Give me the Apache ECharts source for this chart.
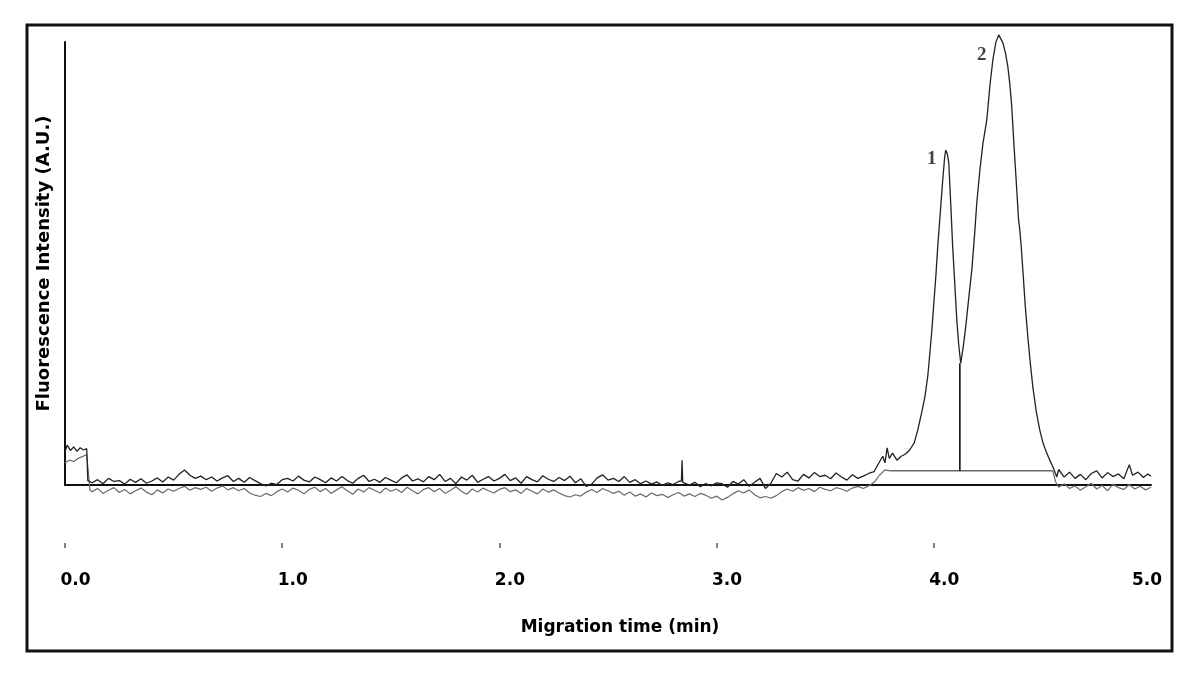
<!DOCTYPE html>
<html><head><meta charset="utf-8">
<script src="https://cdn.jsdelivr.net/npm/echarts@6/dist/echarts.min.js"></script>
<style>html,body{margin:0;padding:0;background:#fff}#c{width:1200px;height:681px}</style>
</head><body><div id="c"></div>
<script>
// ---- data (time in min, intensity in A.U., axis 0..100) ----
const xTickLabels = ['0.0','1.0','2.0','3.0','4.0','5.0'];
const xTickMarks = [0, 1, 2, 3, 4];

const noiseTimes = [
 0.125,0.15,0.175,0.2,0.225,0.25,0.275,0.3,0.325,0.35,0.375,0.4,0.425,0.45,0.475,0.5,
 0.525,0.55,0.575,0.6,
 0.625,0.65,0.675,0.7,0.725,0.75,0.775,0.8,0.825,0.85,0.875,0.9,0.925,0.95,0.975,1.0,
 1.025,1.05,1.075,1.1,1.125,1.15,1.175,1.2,1.225,1.25,1.275,1.3,1.325,1.35,1.375,1.4,1.425,1.45,1.475,1.5,
 1.525,1.55,1.575,1.6,1.625,1.65,1.675,1.7,1.725,1.75,1.775,1.8,1.825,1.85,1.875,1.9,1.925,1.95,1.975,2.0,
 2.025,2.05,2.075,2.1,2.125,2.15,2.175,2.2,2.225,2.25,2.275,2.3,2.325,2.35,2.375,2.4,2.425,2.45,2.475,2.5,
 2.525,2.55,2.575,2.6,2.625,2.65,2.675,2.7,2.725,2.75,2.775,2.8,2.825,2.85,2.875,2.9,2.925,2.95,2.975,3.0,
 3.025,3.05,3.075,3.1,3.125,3.15,3.175,3.2,3.225,3.25,3.275,3.3,3.325,3.35,3.375,3.4,3.425,3.45,3.475,3.5,
 3.525,3.55,3.575,3.6,3.625,3.65,3.675,3.7
];

const blackNoise = [
 0.5,1.2,0.3,1.5,0.8,1.0,0.2,1.3,0.6,1.4,0.4,0.9,1.6,0.7,1.8,1.1,
 2.4,3.4,2.2,1.5,
 2.0,1.2,1.8,0.9,1.6,2.1,0.8,1.5,0.6,1.7,1.0,0.3,-0.2,0.4,0.1,1.2,
 1.5,0.9,2.0,1.1,0.7,1.8,1.2,0.5,1.6,0.9,1.9,1.0,0.4,1.5,2.2,0.8,1.3,0.6,1.7,1.1,
 0.5,1.6,2.3,0.9,1.4,0.7,1.9,1.2,2.4,0.8,1.5,0.3,1.8,1.1,2.2,0.6,1.3,1.9,0.9,1.5,
 2.4,1.0,1.6,0.4,1.9,1.2,0.7,2.1,1.3,0.8,1.7,1.0,2.0,0.5,1.4,-0.3,0.2,1.6,2.3,1.1,
 1.5,0.8,1.9,0.6,1.2,0.3,0.9,0.2,0.7,-0.1,0.5,0.1,0.8,0.6,0.0,0.6,-0.4,0.3,-0.2,0.5,
 0.3,-0.5,0.8,0.2,1.2,-0.3,0.6,1.5,-0.8,0.4,2.6,1.8,2.9,1.2,0.9,2.4,1.6,2.8,1.9,2.2,
 1.4,2.7,1.8,1.1,2.3,1.5,2.0,2.6
];

const grayNoise = [
 -1.5,-0.8,-1.9,-1.2,-0.6,-1.7,-1.0,-2.0,-1.3,-0.7,-1.6,-2.2,-1.1,-1.8,-0.9,-1.4,
 -0.8,-0.3,-1.2,-0.6,
 -1.0,-0.5,-1.4,-0.7,-0.2,-1.1,-0.6,-1.3,-0.8,-1.8,-2.3,-2.6,-1.9,-2.4,-1.5,-0.9,
 -1.6,-0.7,-1.2,-2.0,-1.0,-0.5,-1.5,-0.8,-1.9,-1.1,-0.4,-1.3,-2.1,-0.9,-1.6,-0.6,-1.2,-1.8,-0.7,-1.4,
 -0.9,-1.7,-0.5,-1.3,-2.0,-1.0,-0.6,-1.5,-0.8,-1.9,-1.2,-0.4,-1.4,-2.1,-0.9,-1.6,-0.7,-1.3,-1.8,-1.0,
 -0.6,-1.5,-1.1,-1.9,-0.8,-1.4,-2.0,-0.9,-1.6,-1.1,-1.8,-2.4,-2.7,-2.2,-2.5,-1.6,-1.0,-1.7,-0.8,-1.3,
 -1.9,-1.4,-2.3,-1.6,-2.5,-2.0,-2.7,-1.8,-2.4,-2.1,-2.8,-2.2,-1.7,-2.5,-2.0,-2.6,-1.9,-2.3,-3.0,-2.5,
 -3.4,-2.8,-2.0,-1.3,-1.8,-1.1,-2.2,-2.9,-2.6,-3.0,-2.4,-1.5,-0.9,-1.4,-0.6,-1.2,-0.8,-1.5,-0.5,-1.0,
 -1.3,-0.6,-0.9,-1.4,-0.7,-0.3,-0.8,-0.2
];

const blackStart = [[0,7.5],[0.01,9.0],[0.025,7.8],[0.04,8.6],[0.055,7.6],[0.07,8.4],[0.085,7.9],[0.1,8.2],[0.105,1.0]];
const blackSpike = [[2.838,0.9],[2.841,5.6],[2.844,0.6]];
const blackPeaks = [
 [3.725,3.0],[3.745,4.8],[3.765,6.5],[3.775,5.0],[3.785,8.4],[3.795,6.0],[3.81,7.2],[3.83,5.6],[3.85,6.5],
 [3.87,7.0],[3.889,7.9],[3.91,9.5],[3.926,12.4],[3.945,16.5],[3.959,19.9],[3.972,24.5],[3.982,29.8],
 [3.992,35.5],[4.0,41.0],[4.01,47.5],[4.018,53.7],[4.03,61.5],[4.041,68.8],[4.05,74.0],[4.055,75.6],
 [4.062,74.8],[4.069,72.7],[4.078,63.5],[4.087,53.7],[4.097,45.0],[4.106,37.2],[4.115,31.5],[4.124,27.5],
 [4.135,31.0],[4.147,35.7],[4.16,41.8],[4.175,48.5],[4.187,56.0],[4.198,63.7],[4.212,71.0],[4.226,77.0],
 [4.244,82.4],[4.258,90.0],[4.272,96.0],[4.286,100.0],[4.299,101.6],[4.308,101.2],[4.318,99.8],[4.33,97.5],
 [4.341,94.4],[4.35,90.5],[4.359,85.3],[4.37,76.0],[4.382,66.6],[4.39,60.0],[4.396,57.6],[4.403,53.5],
 [4.41,48.5],[4.421,40.5],[4.433,33.4],[4.445,27.2],[4.456,22.1],[4.472,16.5],[4.488,12.4],[4.504,9.3],
 [4.52,7.2],[4.535,5.5],[4.548,4.1],[4.557,3.0],[4.566,1.8]
];
const blackTail = [
 [4.575,3.5],[4.6,1.8],[4.625,2.9],[4.65,1.5],[4.675,2.4],[4.7,1.2],[4.725,2.6],[4.75,3.2],[4.775,1.6],
 [4.8,2.8],[4.825,1.9],[4.85,2.5],[4.875,1.4],[4.9,4.6],[4.915,2.2],[4.94,2.9],[4.965,1.7],[4.985,2.5],[5.0,2.0]
];

const grayStart = [[0,5.0],[0.02,5.6],[0.04,5.3],[0.06,6.0],[0.08,6.4],[0.1,6.9],[0.105,6.8],[0.115,-1.2]];
const grayRise = [[3.725,0.6],[3.75,2.2],[3.775,3.4],[3.8,3.2]];
const grayTail = [
 [4.548,3.2],[4.56,0.8],[4.575,-0.5],[4.6,0.3],[4.625,-0.8],[4.65,-0.2],[4.675,-1.2],[4.7,-0.4],[4.725,0.4],
 [4.75,-0.9],[4.775,-0.1],[4.8,-1.3],[4.825,0.2],[4.85,-0.6],[4.875,-1.0],[4.9,0.1],[4.925,-0.9],
 [4.95,-0.3],[4.975,-1.1],[5.0,-0.5]
];

const integrationBaseline = [[3.8,3.2],[4.548,3.2]];
const dropLine = [[4.12,3.2],[4.12,27.5]];
const peakLabels = [['1',3.991,73.6],['2',4.221,97.1]];

// ---- build series data ----
const blackTrace = blackStart
  .concat(noiseTimes.map((t,i)=>[t,blackNoise[i]]))
  .concat(blackSpike)
  .sort((a,b)=>a[0]-b[0])
  .concat(blackPeaks, blackTail);
const grayTrace = grayStart.concat(noiseTimes.map((t,i)=>[t,grayNoise[i]]), grayRise);

const FONT = '"DejaVu Sans", Verdana, sans-serif';
const chart = echarts.init(document.getElementById('c'), null, {renderer:'canvas'});
chart.setOption({
  animation:false,
  backgroundColor:'#fff',
  grid:{left:65, top:42, right:49, bottom:196, containLabel:false, outerBoundsMode:'none'},
  graphic:[{type:'rect', silent:true, shape:{x:27, y:25, width:1145, height:626},
            style:{fill:'none', stroke:'#111', lineWidth:3}}],
  xAxis:[
    {type:'value', min:0, max:5, interval:1, position:'bottom',
     axisLine:{show:true, onZero:false, lineStyle:{color:'#111', width:2}},
     axisTick:{show:false}, axisLabel:{show:false}, splitLine:{show:false}},
    {type:'value', min:0, max:5, interval:1, position:'bottom', offset:58,
     axisLine:{show:false, onZero:false}, splitLine:{show:false},
     axisTick:{show:true, length:5, customValues:xTickMarks, lineStyle:{color:'#555', width:1.5}},
     axisLabel:{show:true, margin:29, showMinLabel:true, showMaxLabel:true,
       formatter:(v)=>{const i=Math.round(v); return (i===5?'{e|':'{n|')+xTickLabels[i]+'}';},
       rich:{
         n:{fontFamily:FONT, fontWeight:'bold', fontSize:17, color:'#000', padding:[0,0,0,21]},
         e:{fontFamily:FONT, fontWeight:'bold', fontSize:17, color:'#000', padding:[0,8,0,0]}
       }},
     name:'Migration time (min)', nameLocation:'middle', nameGap:76,
     nameTextStyle:{fontFamily:FONT, fontWeight:'bold', fontSize:17, color:'#000', padding:[0,0,0,24]}}
  ],
  yAxis:{type:'value', min:0, max:100,
    axisLine:{show:true, lineStyle:{color:'#111', width:2}},
    axisTick:{show:false}, axisLabel:{show:false}, splitLine:{show:false},
    name:'Fluorescence Intensity (A.U.)', nameLocation:'middle', nameGap:12,
    nameTextStyle:{fontFamily:FONT, fontWeight:'bold', fontSize:18, color:'#000'}},
  series:[
    {type:'line', name:'blank', data:grayTrace, symbol:'none', clip:false, z:2,
     lineStyle:{color:'#6a6a6a', width:1.2}},
    {type:'line', name:'blank tail', data:grayTail, symbol:'none', clip:false, z:2,
     lineStyle:{color:'#6a6a6a', width:1.2}},
    {type:'line', name:'integration', data:integrationBaseline, symbol:'none', clip:false, z:3,
     lineStyle:{color:'#6a6a6a', width:1.5}},
    {type:'line', name:'sample', data:blackTrace, symbol:'none', clip:false, z:4,
     lineStyle:{color:'#222', width:1.3}},
    {type:'line', name:'drop', data:dropLine, symbol:'none', clip:false, z:3,
     lineStyle:{color:'#000', width:1.5}},
    {type:'scatter', name:'peaks', symbolSize:0, clip:false, z:5,
     data:peakLabels.map(p=>({name:p[0], value:[p[1],p[2]]})),
     label:{show:true, position:'inside', formatter:'{b}',
       fontFamily:'"Liberation Serif", "Times New Roman", serif', fontWeight:'bold', fontSize:19, color:'#111'}}
  ]
});
</script>
</body></html>
